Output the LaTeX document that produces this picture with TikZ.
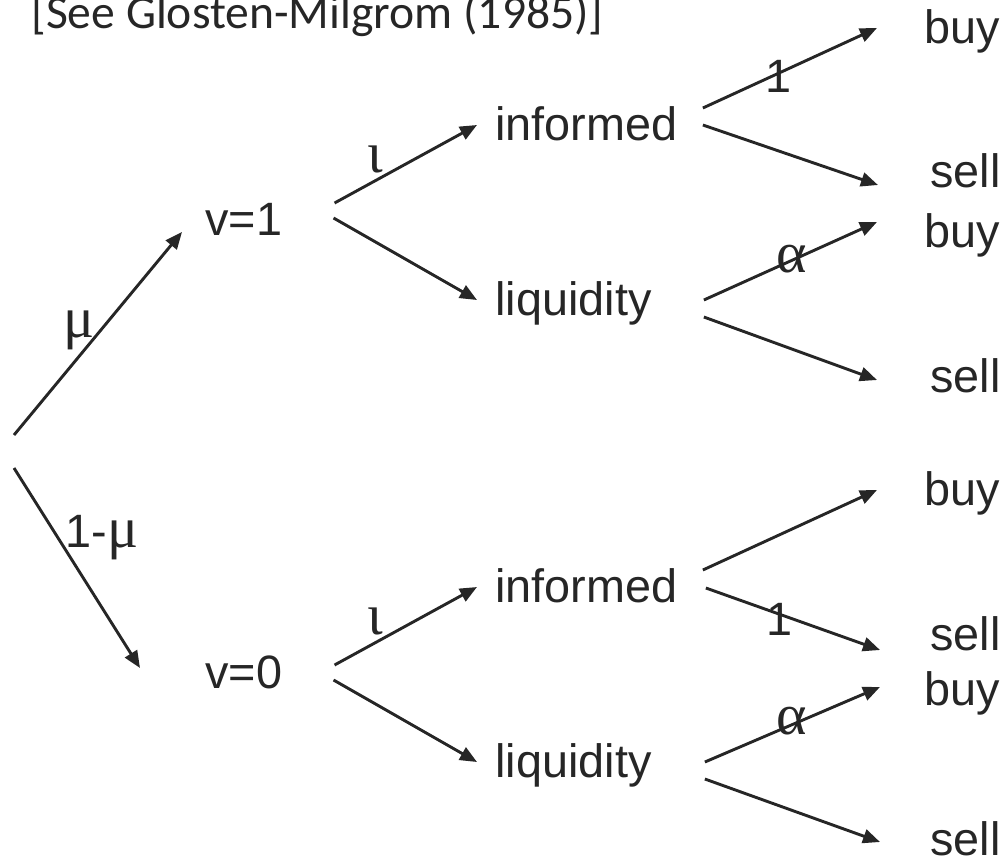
\documentclass[tikz,border=0pt]{standalone}
\usepackage{fontspec}
\setmainfont{Liberation Sans}
\newfontfamily\greekfont{Liberation Serif}
\newfontfamily\notefont{Carlito}
\usetikzlibrary{arrows.meta}
\definecolor{ink}{RGB}{38,38,38}

\begin{document}
\begin{tikzpicture}[x=0.5pt, y=-0.5pt,
    lbl/.style={anchor=base west, inner sep=0pt, text=ink,
                font=\fontsize{23.4}{28}\selectfont},
    grk/.style={lbl, font=\fontsize{29}{32}\selectfont\greekfont},
    arr/.style={-{Triangle[length=8.5pt,width=7pt]}, line width=1.45pt, ink}]
    \useasboundingbox (0,0) rectangle (1008,858);
    \node[lbl, font=\fontsize{23.8}{28}\selectfont\notefont] (ref) at (31,28) {[See Glosten-Milgrom (1985)]};
    % value of the asset
    \coordinate (root) at (14,451);
    \node[lbl] (v1) at (205,235) {v=1};
    \node[lbl] (v0) at (205,688) {v=0};
    % type of trader
    \node[lbl] (inf1) at (495,140) {informed};
    \node[lbl] (liq1) at (495,315) {liquidity};
    \node[lbl] (inf0) at (495,602) {informed};
    \node[lbl] (liq0) at (495,777) {liquidity};
    % orders
    \node[lbl] (b1) at (924,43) {buy};
    \node[lbl] (s1) at (930,187) {sell};
    \node[lbl] (b2) at (924,247) {buy};
    \node[lbl] (s2) at (930,392) {sell};
    \node[lbl] (b3) at (924,505) {buy};
    \node[lbl] (s3) at (930,650) {sell};
    \node[lbl] (b4) at (924,705) {buy};
    \node[lbl] (s4) at (930,855) {sell};
    % branches
    \draw[arr] ([shift={(0,-16)}]root) -- ([shift={(-23,-3)}]v1.base west);
    \draw[arr] ([shift={(0,17)}]root) -- ([shift={(-65,-20)}]v0.base west);
    \draw[arr] ([shift={(52,-32)}]v1.base east) -- ([shift={(-18,-15)}]inf1.base west);
    \draw[arr] ([shift={(51,-17)}]v1.base east) -- ([shift={(-18,-15)}]liq1.base west);
    \draw[arr] ([shift={(52,-23)}]v0.base east) -- ([shift={(-18,-15)}]inf0.base west);
    \draw[arr] ([shift={(51,-8)}]v0.base east) -- ([shift={(-18,-15)}]liq0.base west);
    \draw[arr] ([shift={(25,-32)}]inf1.base east) -- ([shift={(-47,-15)}]b1.base west);
    \draw[arr] ([shift={(25,-15)}]inf1.base east) -- ([shift={(-52,-2)}]s1.base west);
    \draw[arr] ([shift={(52,-15)}]liq1.base east) -- ([shift={(-47,-25)}]b2.base west);
    \draw[arr] ([shift={(52,2)}]liq1.base east) -- ([shift={(-53,-12)}]s2.base west);
    \draw[arr] ([shift={(25,-32)}]inf0.base east) -- ([shift={(-47,-15)}]b3.base west);
    \draw[arr] ([shift={(28,-14)}]inf0.base east) -- ([shift={(-50,0)}]s3.base west);
    \draw[arr] ([shift={(53,-15)}]liq0.base east) -- ([shift={(-44,-18)}]b4.base west);
    \draw[arr] ([shift={(53,2)}]liq0.base east) -- ([shift={(-50,-13)}]s4.base west);
    % probabilities
    \node[grk] (pmu) at (63,337) {μ};
    \node[lbl] (pnmu) at (65,547) {1-{\fontsize{29}{32}\selectfont\greekfont μ}};
    \node[grk] (pi1) at (367,172) {ι};
    \node[grk] (pi0) at (367,634) {ι};
    \node[lbl] (pone1) at (765,92) {1};
    \node[lbl] (pone0) at (766,635) {1};
    \node[grk] (pa1) at (776,272) {α};
    \node[grk] (pa0) at (776,734) {α};
\end{tikzpicture}
\end{document}
